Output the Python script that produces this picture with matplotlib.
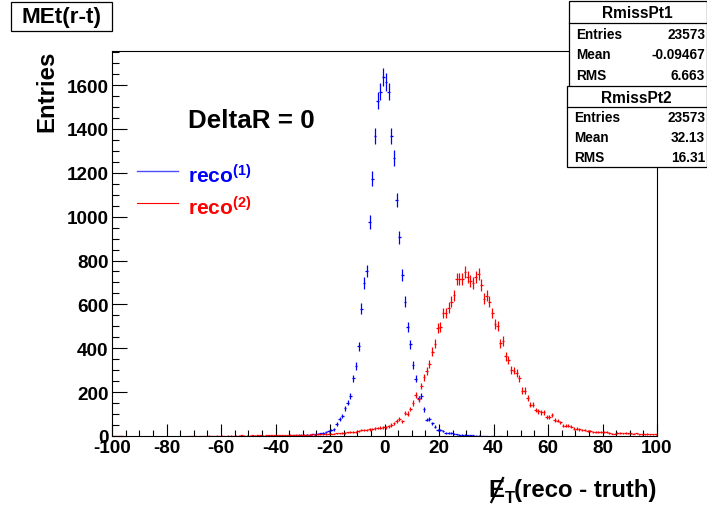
import numpy as np
import matplotlib
matplotlib.use("Agg")
import matplotlib.pyplot as plt
from matplotlib.patches import Rectangle
from matplotlib.lines import Line2D
from matplotlib.ticker import MultipleLocator

plt.rcParams['font.family'] = ['Liberation Sans', 'DejaVu Sans']
plt.rcParams['font.weight'] = 'bold'
plt.rcParams['axes.unicode_minus'] = False
plt.rcParams['mathtext.fontset'] = 'custom'
plt.rcParams['mathtext.rm'] = 'Liberation Sans:bold'
plt.rcParams['mathtext.bf'] = 'Liberation Sans:bold'
plt.rcParams['mathtext.default'] = 'bf'

# ---------------- data (bin width 1, bin centers) ----------------
blue_first_center = -59.5
blue_counts = [
    0, 0, 0, 0, 0, 0, 0, 1, 0, 0,            # -59.5 .. -50.5
    0, 0, 1, 0, 0, 1, 0, 1, 0, 1,            # -49.5 .. -40.5
    1, 1, 2, 1, 2, 2, 3, 2, 3, 4,            # -39.5 .. -30.5
    4, 5, 5, 7, 8, 10, 12, 14, 17, 22,       # -29.5 .. -20.5
    27, 30, 55, 78, 91, 126, 152, 184, 263, 321,          # -19.5 .. -10.5
    409, 580, 698, 751, 974, 1172, 1368, 1528, 1569, 1637,  # -9.5 .. -0.5
    1614, 1569, 1368, 1268, 1076, 906, 733, 612, 496, 418,  # 0.5 .. 9.5
    323, 261, 171, 184, 122, 75, 79, 58, 43, 28,          # 10.5 .. 19.5
    27, 24, 15, 14, 13, 10, 8, 6, 5, 5,      # 20.5 .. 29.5
    4, 3, 3, 2, 2, 1, 1, 1, 0, 1,            # 30.5 .. 39.5
    0, 0, 1, 0, 0, 0, 0, 0, 0, 0,            # 40.5 .. 49.5
]

red_first_center = -99.5
red_counts = [
    1, 1, 1, 1, 0, 0, 0, 0, 0, 0,            # -99.5 .. -90.5
    0, 0, 0, 0, 0, 0, 0, 0, 0, 0,
    0, 0, 0, 0, 0, 0, 0, 0, 1, 1,
    1, 0, 1, 1, 1, 2, 1, 1, 2, 1,
    2, 1, 2, 2, 1, 2, 2, 3, 2, 2,
    2, 3, 2, 3, 3, 2, 3, 3, 4, 3,
    3, 4, 3, 4, 4, 5, 4, 5, 5, 6,
    5, 6, 6, 7, 6, 7, 8, 8, 9, 10,           # -29.5 .. -20.5
    10, 11, 12, 12, 14, 15, 16, 17, 18, 20,  # -19.5 .. -10.5
    22, 26, 28, 28, 30, 33, 35, 36, 38, 40,  # -9.5 .. -0.5
    40, 45, 50, 58, 68, 78, 67, 105, 102, 123,            # 0.5 .. 9.5
    150, 188, 170, 228, 268, 296, 328, 384, 420, 494,     # 10.5 .. 19.5
    498, 561, 560, 585, 612, 642, 716, 716, 716, 746,     # 20.5 .. 29.5
    724, 708, 698, 724, 739, 689, 625, 640, 612, 561,     # 30.5 .. 39.5
    511, 500, 423, 433, 363, 347, 302, 298, 287, 263,     # 40.5 .. 49.5
    207, 207, 173, 143, 143, 118, 113, 108, 108, 85,      # 50.5 .. 59.5
    88, 96, 74, 70, 62, 47, 47, 47, 43, 34,               # 60.5 .. 69.5
    34, 30, 27, 26, 21, 24, 20, 20, 20, 20,               # 70.5 .. 79.5
    17, 17, 15, 11, 11, 15, 15, 12, 15, 12,               # 80.5 .. 89.5
    12, 11, 12, 8, 8, 8, 9, 8, 8, 8,                      # 90.5 .. 99.5
]

stats1 = [("Entries", "23573"), ("Mean", "-0.09467"), ("RMS", "6.663")]
stats2 = [("Entries", "23573"), ("Mean", "32.13"), ("RMS", "16.31")]

# ---------------- figure ----------------
W, H = 707, 510
fig = plt.figure(figsize=(W / 100, H / 100), dpi=100)


def fx(x):
    return x / W


def fy(y):
    return 1 - y / H


ax = fig.add_axes([fx(112), fy(437), (657 - 112) / W, (437 - 52) / H])


def draw_hist(first_center, counts, color):
    c = np.asarray(counts, dtype=float)
    x = first_center + np.arange(len(c))
    m = c > 0
    ax.errorbar(x[m], c[m], xerr=0.5, yerr=np.sqrt(c[m]), fmt='none',
                ecolor=color, elinewidth=0.9, capsize=0)


draw_hist(blue_first_center, blue_counts, (0, 0, 1))
draw_hist(red_first_center, red_counts, (1, 0, 0))

ax.set_xlim(-100, 100)
ax.set_ylim(0, 1755)
ax.set_xticks(np.arange(-100, 101, 20))
ax.xaxis.set_minor_locator(MultipleLocator(5))
ax.set_yticks(np.arange(0, 1601, 200))
ax.yaxis.set_minor_locator(MultipleLocator(50))
ax.tick_params(axis='x', which='major', direction='in', length=8.3, width=0.8,
               labelsize=13.6, pad=2.5, top=False)
ax.tick_params(axis='x', which='minor', direction='in', length=4.0, width=0.8, top=False)
ax.tick_params(axis='y', which='major', direction='in', length=10.5, width=0.8,
               labelsize=13.6, pad=2.5, right=False)
ax.tick_params(axis='y', which='minor', direction='in', length=5.0, width=0.8, right=False)
for lab in ax.get_xticklabels() + ax.get_yticklabels():
    lab.set_fontweight('bold')
for s in ax.spines.values():
    s.set_linewidth(0.8)

# in-plot texts
fig.text(fx(188), fy(128), "DeltaR = 0", fontsize=18.7, fontweight='bold',
         ha='left', va='baseline')
fig.add_artist(Line2D([fx(137), fx(178)], [fy(172), fy(172)], color=(0.3, 0.3, 1), lw=1.0))
fig.add_artist(Line2D([fx(137), fx(178)], [fy(204), fy(204)], color=(1, 0, 0), lw=0.8))
fig.text(fx(188), fy(183), r"reco$^{(1)}$", color='blue', fontsize=15,
         fontweight='bold', ha='left', va='baseline')
fig.text(fx(188), fy(215), r"reco$^{(2)}$", color='red', fontsize=15,
         fontweight='bold', ha='left', va='baseline')

# axis titles
fig.text(fx(53), fy(91), "Entries", fontsize=17.3, fontweight='bold', rotation=90,
         rotation_mode='anchor', ha='center', va='baseline')

renderer = fig.canvas.get_renderer()
t_main = fig.text(fx(657), fy(497), "(reco - truth)", fontsize=17.3,
                  fontweight='bold', ha='right', va='baseline')
bb = t_main.get_window_extent(renderer)
x0 = bb.x0  # display pixels from left
t_sub = fig.text(x0 / W, fy(503), "T", fontsize=12, fontweight='bold',
                 ha='right', va='baseline')
bb2 = t_sub.get_window_extent(renderer)
t_E = fig.text(bb2.x0 / W, fy(497), "E", fontsize=17.3, fontweight='bold',
               ha='right', va='baseline')
bbE = t_E.get_window_extent(renderer)
fig.add_artist(Line2D([bbE.x1 / W - 0.002, bbE.x0 / W + 0.004],
                      [fy(479), fy(503)], color='black', lw=1.6))

# title box
fig.add_artist(Rectangle((fx(11), fy(32)), (112 - 11) / W, (32 - 3) / H,
                         transform=fig.transFigure, facecolor='white',
                         edgecolor='black', lw=0.9))
fig.text(fx(61.5), fy(17.5), "MEt(r-t)", fontsize=16.2, fontweight='bold',
         ha='center', va='center')


def stat_box(x0p, x1p, y0p, y1p, yline, title, rows, row_ys):
    fig.add_artist(Rectangle((fx(x0p), fy(y1p)), (x1p - x0p) / W, (y1p - y0p) / H,
                             transform=fig.transFigure, facecolor='white',
                             edgecolor='black', lw=0.9))
    fig.add_artist(Line2D([fx(x0p), fx(x1p)], [fy(yline), fy(yline)],
                          color='black', lw=0.9))
    fig.text(fx((x0p + x1p) / 2), fy((y0p + yline) / 2 + 1), title, fontsize=11.2,
             fontweight='bold', ha='center', va='center')
    for (k, v), yy in zip(rows, row_ys):
        fig.text(fx(x0p + 7), fy(yy), k, fontsize=9.8, fontweight='bold',
                 ha='left', va='center')
        fig.text(fx(705), fy(yy), v, fontsize=9.8, fontweight='bold',
                 ha='right', va='center')


stat_box(569, 706.5, 2, 88, 24, "RmissPt1", stats1, [35, 55, 76])
stat_box(567, 706.5, 87, 168, 108, "RmissPt2", stats2, [118, 138, 158])

fig.savefig("out.png", dpi=100)
